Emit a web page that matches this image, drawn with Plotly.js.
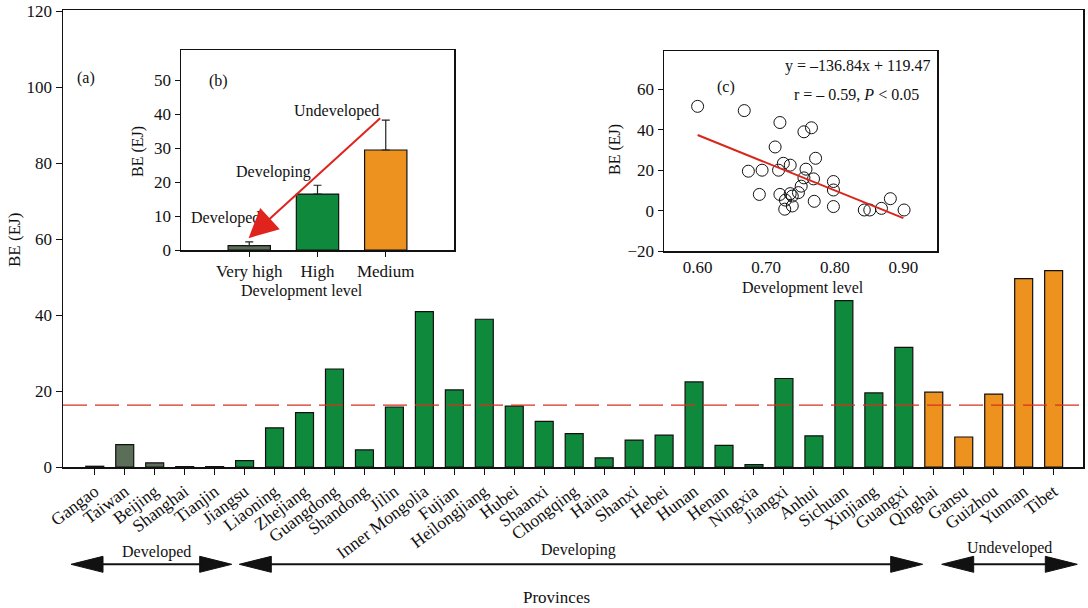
<!DOCTYPE html>
<html><head><meta charset="utf-8">
<script src="https://cdn.plot.ly/plotly-3.0.1.min.js"></script>
<style>html,body{margin:0;padding:0;background:#fff}#chart{width:1088px;height:608px}</style>
</head><body><div id="chart"></div>
<script>
// ---- data ----
const provinces = ['Gangao','Taiwan','Beijing','Shanghai','Tianjin','Jiangsu','Liaoning','Zhejiang','Guangdong','Shandong','Jilin','Inner Mongolia','Fujian','Heilongjiang','Hubei','Shaanxi','Chongqing','Haina','Shanxi','Hebei','Hunan','Henan','Ningxia','Jiangxi','Anhui','Sichuan','Xinjiang','Guangxi','Qinghai','Gansu','Guizhou','Yunnan','Tibet'];
const beValues = [0.2,5.9,1.1,0.1,0.1,1.7,10.3,14.3,25.8,4.5,15.8,40.9,20.3,38.9,16.0,12.0,8.8,2.4,7.1,8.4,22.4,5.7,0.6,23.3,8.2,43.8,19.5,31.5,19.7,7.9,19.2,49.6,51.7];
const devGroup = ['Developed','Developed','Developed','Developed','Developed',
  'Developing','Developing','Developing','Developing','Developing','Developing','Developing','Developing','Developing','Developing','Developing','Developing','Developing','Developing','Developing','Developing','Developing','Developing','Developing','Developing','Developing','Developing','Developing',
  'Undeveloped','Undeveloped','Undeveloped','Undeveloped','Undeveloped'];
const meanBE = 16.3;

const levels = ['Very high','High','Medium'];
const levelGroup = ['Developed','Developing','Undeveloped'];
const levelMeans = [1.3,16.5,29.5];
const levelErrors = [1.1,2.6,8.8];

const devLevel = [0.600,0.668,0.720,0.755,0.766,0.713,0.772,0.725,0.735,0.674,0.694,0.718,0.758,0.755,0.769,0.751,0.798,0.798,0.690,0.720,0.735,0.738,0.747,0.728,0.770,0.881,0.727,0.738,0.798,0.843,0.851,0.868,0.901];
const scatterBE = [51.6,49.5,43.6,39.0,41.0,31.5,25.9,23.4,22.5,19.5,20.0,20.0,20.5,16.2,15.7,12.1,14.4,10.2,8.0,8.0,8.4,7.2,8.9,5.2,4.6,5.9,0.7,2.3,2.0,0.3,0.3,1.1,0.3];
const fitX = [0.60,0.90];
const fitY = [37.4,-3.7];

const groupColors = {Developed:'#5b6e57', Developing:'#0f8a3c', Undeveloped:'#ee921f'};
const FONT = 'Liberation Serif, Times New Roman, serif';

// ---- pixel -> paper helpers (layout only) ----
const L=63, R=5, T=10, B=141, PW=1088-L-R, PH=608-T-B;
const px = x => (x-L)/PW;
const py = y => 1-(y-T)/PH;

const traces = [
  {type:'bar', x:provinces, y:beValues, xaxis:'x', yaxis:'y', width:0.6,
   marker:{color:devGroup.map(g=>groupColors[g]), line:{color:'#111', width:1.2}}, hoverinfo:'x+y'},
  {type:'bar', x:levels, y:levelMeans, xaxis:'x2', yaxis:'y2', width:0.62,
   marker:{color:levelGroup.map(g=>groupColors[g]), line:{color:'#111', width:1.2}},
   error_y:{type:'data', symmetric:false, array:levelErrors, arrayminus:levelErrors.map(()=>0), color:'#222', thickness:1.2, width:4}},
  {type:'scatter', mode:'markers', x:devLevel, y:scatterBE, xaxis:'x3', yaxis:'y3',
   marker:{symbol:'circle-open', size:12, color:'#111', line:{width:1}}},
  {type:'scatter', mode:'lines', x:fitX, y:fitY, xaxis:'x3', yaxis:'y3', line:{color:'#d9261c', width:2}}
];

function ann(text, x, y, opts){
  return Object.assign({text, xref:'paper', yref:'paper', x:px(x), y:py(y), showarrow:false,
    xanchor:'center', yanchor:'middle', font:{family:FONT, size:16, color:'#111'}}, opts||{});
}
const annotations = [
  ann('(a)', 86, 78),
  ann('BE (EJ)', 15, 240, {textangle:-90, font:{family:FONT, size:17, color:'#111'}}),
  ann('Provinces', 556, 597, {font:{family:FONT, size:17, color:'#111'}}),
  ann('Developed', 156, 552),
  ann('Developing', 578, 550),
  ann('Undeveloped', 1009, 548),
  ann('(b)', 218, 81),
  ann('Undeveloped', 336, 111),
  ann('Developing', 273, 172),
  ann('Developed', 225, 218),
  ann('BE (EJ)', 138, 152, {textangle:-90}),
  ann('Development level', 302, 291),
  ann('(c)', 726, 87),
  ann('y = \u2013136.84x + 119.47', 932, 66, {xanchor:'right'}),
  ann('r = \u2013 0.59, <i>P</i> &lt; 0.05', 921, 94, {xanchor:'right'}),
  ann('BE (EJ)', 615, 150, {textangle:-90}),
  ann('Development level', 803, 288),
  {xref:'x2', yref:'y2', axref:'x2', ayref:'y2', x:-0.01, y:3.5, ax:1.94, ay:39.3, text:'',
   showarrow:true, arrowhead:2, arrowsize:2.9, arrowwidth:2, arrowcolor:'#e0231c'}
];

// double arrows below the axis
const arrowY = 564.3, headLen = 32, headHalf = 8;
const arrowSpans = [[71,231.7],[239.3,922.7],[941.7,1077.3]];
const shapes = [
  {type:'line', xref:'paper', yref:'y', x0:0, x1:1, y0:meanBE, y1:meanBE,
   line:{color:'#d8301c', width:1.2, dash:'24px,8px'}}
];
arrowSpans.forEach(([a,b])=>{
  shapes.push({type:'line', xref:'paper', yref:'paper', x0:px(a+headLen-2), x1:px(b-headLen+2), y0:py(arrowY), y1:py(arrowY), line:{color:'#111', width:2}});
  const tri = (tip, dir) => `M${px(tip)},${py(arrowY)} L${px(tip+dir*headLen)},${py(arrowY-headHalf)} L${px(tip+dir*headLen)},${py(arrowY+headHalf)} Z`;
  shapes.push({type:'path', xref:'paper', yref:'paper', path:tri(a,1), fillcolor:'#111', line:{color:'#111', width:1}});
  shapes.push({type:'path', xref:'paper', yref:'paper', path:tri(b,-1), fillcolor:'#111', line:{color:'#111', width:1}});
});

const axBase = {showgrid:false, zeroline:false, showline:true, linecolor:'#111', linewidth:1.5, mirror:true,
  ticks:'outside', tickcolor:'#111', ticklen:5, tickwidth:1, tickfont:{family:FONT, size:17, color:'#111'}};

const layout = {
  width:1088, height:608, margin:{l:L, r:R, t:T, b:B}, showlegend:false,
  paper_bgcolor:'#fff', plot_bgcolor:'#fff', font:{family:FONT, color:'#111'},
  bargap:0.4,
  xaxis:Object.assign({}, axBase, {domain:[0,1], range:[-1.06,32.98], tickangle:-37, ticklen:6,
     tickfont:{family:FONT, size:17.5, color:'#111'}, anchor:'y'}),
  yaxis:Object.assign({}, axBase, {domain:[0,1], range:[0,120.3], tickvals:[0,20,40,60,80,100,120], ticklen:6, anchor:'x'}),
  xaxis2:Object.assign({}, axBase, {domain:[px(181),px(454)], range:[-1,3], anchor:'y2', tickfont:{family:FONT, size:17, color:'#111'}}),
  yaxis2:Object.assign({}, axBase, {domain:[py(250),py(50)], range:[0,59], tickvals:[0,10,20,30,40,50], anchor:'x2'}),
  xaxis3:Object.assign({}, axBase, {domain:[px(664),px(937)], range:[0.551,0.949], tickvals:[0.6,0.7,0.8,0.9], tickformat:'.2f', anchor:'y3', ticks:''}),
  yaxis3:Object.assign({}, axBase, {domain:[py(251),py(51)], range:[-20,79], tickvals:[-20,0,20,40,60], anchor:'x3'}),
  annotations, shapes
};

Plotly.newPlot('chart', traces, layout, {displayModeBar:false, staticPlot:true});
</script></body></html>
